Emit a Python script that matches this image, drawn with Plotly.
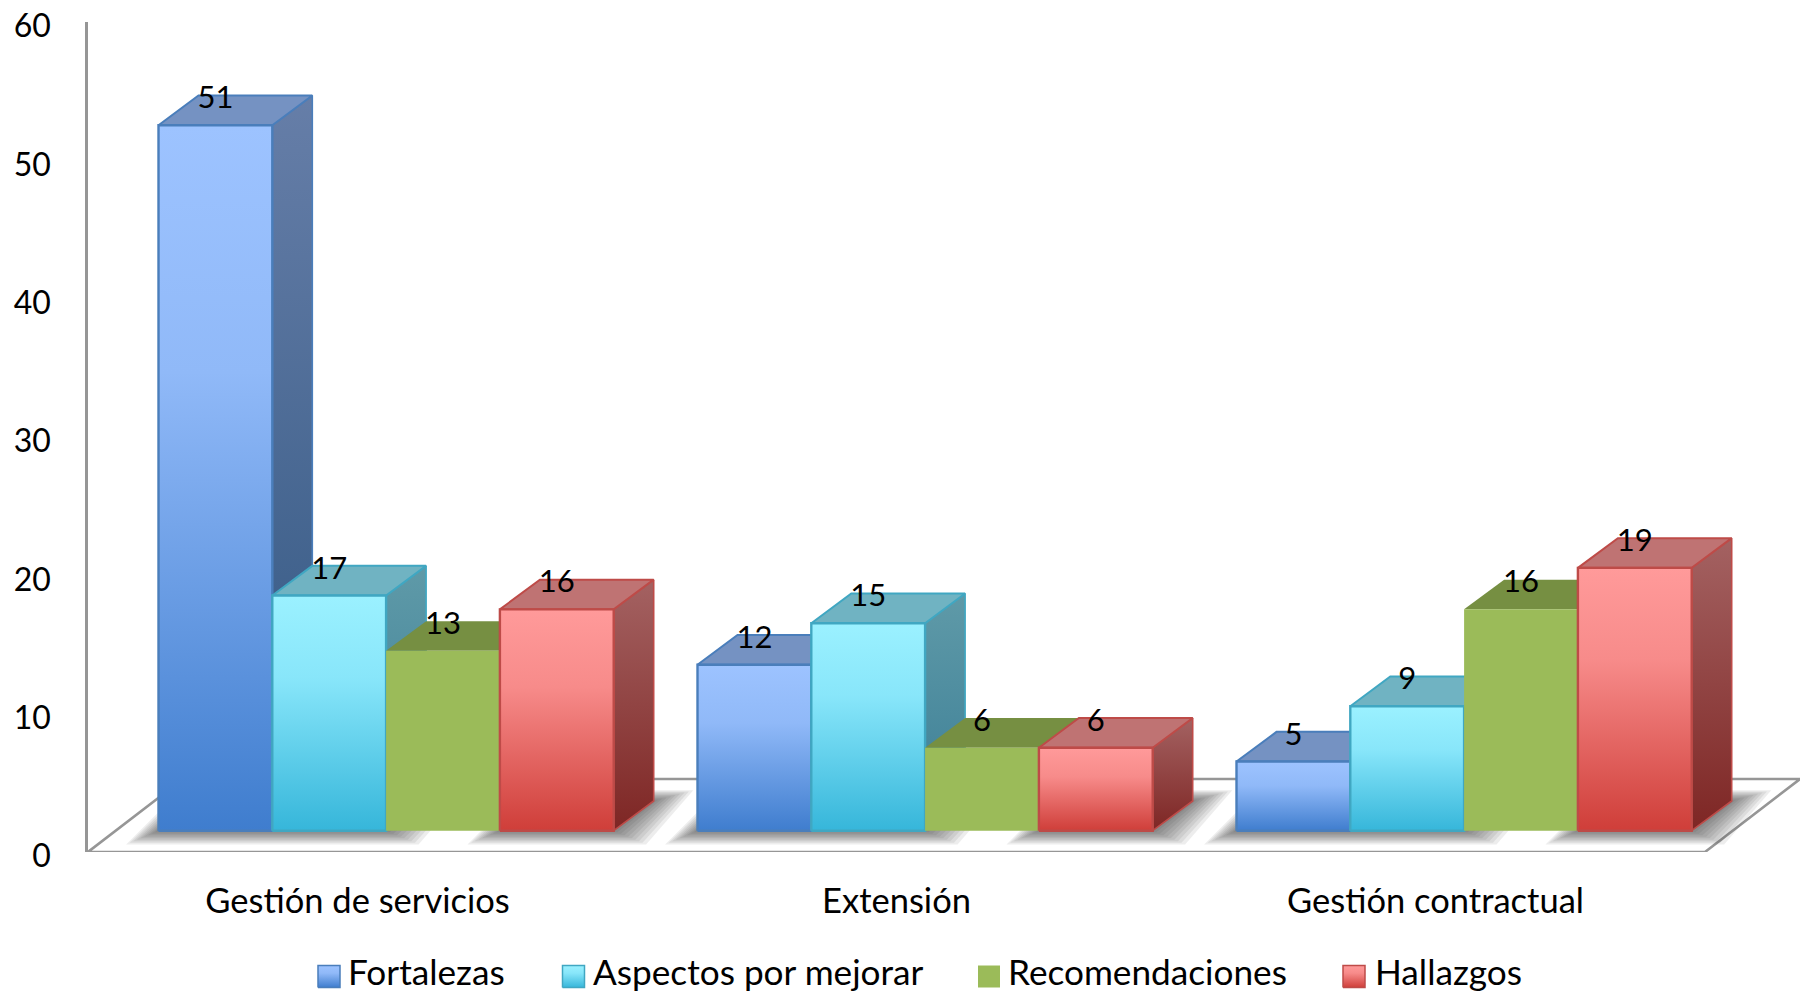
import plotly.graph_objects as go

categories = ["Gestión de servicios", "Extensión", "Gestión contractual"]
series_names = ["Fortalezas", "Aspectos por mejorar", "Recomendaciones", "Hallazgos"]
fortalezas = [51, 12, 5]
aspectos = [17, 15, 9]
recomendaciones = [13, 6, 16]
hallazgos = [16, 6, 19]
y_ticks = [0, 10, 20, 30, 40, 50, 60]
series_values = [fortalezas, aspectos, recomendaciones, hallazgos]

W, H = 1800, 994
AX_L, AX_B, AX_T = 88, 852, 22
CAT_PX = 539.0
VAL_PX = (AX_B - AX_T) / 60.0
def px_x(p): return p / CAT_PX
def px_y(p): return p / VAL_PX

FLOOR_UP = px_y(21.3)
BAR_W = px_x(113.8)
GROUP_IN = px_x(70.5)
DX, DY = px_x(40), px_y(29.7)
FDX, FDY = px_x(95), px_y(73)

front_stops = [
    ["#9DC3FF", "#90B9F8", "#3F7DCE"],
    ["#9BF1FF", "#88E6FA", "#36B6DA"],
    ["#9BBB59", "#9BBB59", "#9BBB59"],
    ["#FF9A9A", "#F78B8A", "#CF3E39"],
]
side_stops = [("#667EA8", "#2F5580"), ("#5F9AA8", "#3A7D95"), ("#5F7533", "#5F7533"), ("#A46262", "#7E2624")]
top_fill = ["#7592C2", "#70B3C2", "#768F42", "#BF7373"]
edge = ["#4A7EBB", "#40A7C2", None, "#BE4B48"]

fig = go.Figure()

def poly(xs, ys, fill=None, grad=None, line=None, width=2, **kw):
    t = dict(x=xs + xs[:1], y=ys + ys[:1], mode="lines", fill="toself", hoverinfo="skip", showlegend=False)
    t["line"] = dict(color=line or "rgba(0,0,0,0)", width=width if line else 0)
    if grad:
        t["fillgradient"] = dict(type="vertical", colorscale=grad)
        t["fillcolor"] = "rgba(0,0,0,0)"
    else:
        t["fillcolor"] = fill
    t.update(kw)
    fig.add_trace(go.Scatter(**t))

# floor
x0, x1 = -0.5, 2.5
fig.add_trace(go.Scatter(
    x=[x0, x1, x1 + FDX, x0 + FDX, x0], y=[0, 0, FDY, FDY, 0], mode="lines", fill="toself",
    fillcolor="white", line=dict(color="#969696", width=2.6), hoverinfo="skip", showlegend=False))

# soft shadows under every bar run (the green bars cast none)
SHADOW_RUNS = [(0, 1), (3, 3)]
for c in range(len(categories)):
    left = c - 0.5 + GROUP_IN
    for a, b in SHADOW_RUNS:
        xa, xb = left + a * BAR_W, left + (b + 1) * BAR_W
        for e in [36, 32, 28, 24, 20, 16, 12, 8, 4]:
            ex = px_x(e)
            lo = FLOOR_UP - px_y(e * 0.38)
            hi = FLOOR_UP + DY + px_y(e * 0.3)
            poly([xa - ex * 0.9, xb + ex * 0.9, xb + DX + ex * 1.1, xa + DX - ex * 0.5],
                 [lo, lo, hi, hi], fill="rgba(60,60,60,0.09)")

# bars
for c in range(len(categories)):
    left = c - 0.5 + GROUP_IN
    for s, vals in enumerate(series_values):
        v = vals[c] + FLOOR_UP
        xa, xb = left + s * BAR_W, left + (s + 1) * BAR_W
        e = edge[s]
        st = side_stops[s]
        poly([xb, xb + DX, xb + DX, xb], [FLOOR_UP, FLOOR_UP + DY, v + DY, v],
             grad=[[0, st[1]], [1, st[0]]], line=e, width=1.6)
        poly([xa, xb, xb + DX, xa + DX], [v, v, v + DY, v + DY], fill=top_fill[s], line=e, width=2)
        fs = front_stops[s]
        poly([xa, xb, xb, xa], [FLOOR_UP, FLOOR_UP, v, v],
             grad=[[0, fs[2]], [0.65, fs[1]], [1, fs[0]]], line=e, width=2.4)

# value labels
lx, ly, lt = [], [], []
for c in range(len(categories)):
    left = c - 0.5 + GROUP_IN
    for s, vals in enumerate(series_values):
        lx.append(left + (s + 0.5) * BAR_W)
        ly.append(vals[c] + FLOOR_UP + DY - px_y(5))
        lt.append(str(vals[c]))
fig.add_trace(go.Scatter(x=lx, y=ly, text=lt, mode="text", textposition="middle center",
                         textfont=dict(family="Lato", size=31, color="black"),
                         hoverinfo="skip", showlegend=False))

# legend
LEG_SWATCH = [318, 562.5, 978, 1343]
LEG_TEXT = [348, 593, 1008, 1375]
LEG_Y = 17.5
SW = 22
for s, name in enumerate(series_names):
    xa = LEG_SWATCH[s]
    fs = front_stops[s]
    poly([xa, xa + SW, xa + SW, xa], [LEG_Y - SW / 2, LEG_Y - SW / 2, LEG_Y + SW / 2, LEG_Y + SW / 2],
         grad=[[0, fs[2]], [0.65, fs[1]], [1, fs[0]]], line=edge[s], width=1.5, xaxis="x2", yaxis="y2")
    fig.add_trace(go.Scatter(x=[LEG_TEXT[s]], y=[LEG_Y], text=[name], mode="text", textposition="middle right",
                             textfont=dict(family="Lato", size=35.2, color="black"), xaxis="x2", yaxis="y2",
                             hoverinfo="skip", showlegend=False, cliponaxis=False))

fig.update_layout(
    width=W, height=H, margin=dict(l=0, r=0, t=0, b=0, autoexpand=False), paper_bgcolor="white",
    plot_bgcolor="rgba(0,0,0,0)", showlegend=False,
    xaxis=dict(domain=[AX_L / W, 1], range=[-0.5, -0.5 + (W - AX_L) / CAT_PX], tickvals=[0, 1, 2],
               ticktext=categories, showgrid=False, zeroline=False, showline=False, ticks="", automargin=False,
               tickfont=dict(family="Lato", size=34.5, color="black"), ticklabelstandoff=25),
    yaxis=dict(domain=[(H - AX_B) / H, (H - AX_T) / H], range=[0, 60], tickvals=y_ticks, showgrid=False,
               zeroline=False, showline=True, linecolor="#969696", linewidth=2.6, ticks="", automargin=False,
               tickfont=dict(family="Lato", size=32, color="black"), ticklabelstandoff=28, ticklabelshift=4),
    xaxis2=dict(domain=[0, 1], range=[0, W], visible=False, anchor="y2", automargin=False),
    yaxis2=dict(domain=[0, 100 / H], range=[0, 100], visible=False, anchor="x2", automargin=False),
)
fig.write_html("out.html", post_script="document.body.style.margin='0';", config={"displayModeBar": False})
